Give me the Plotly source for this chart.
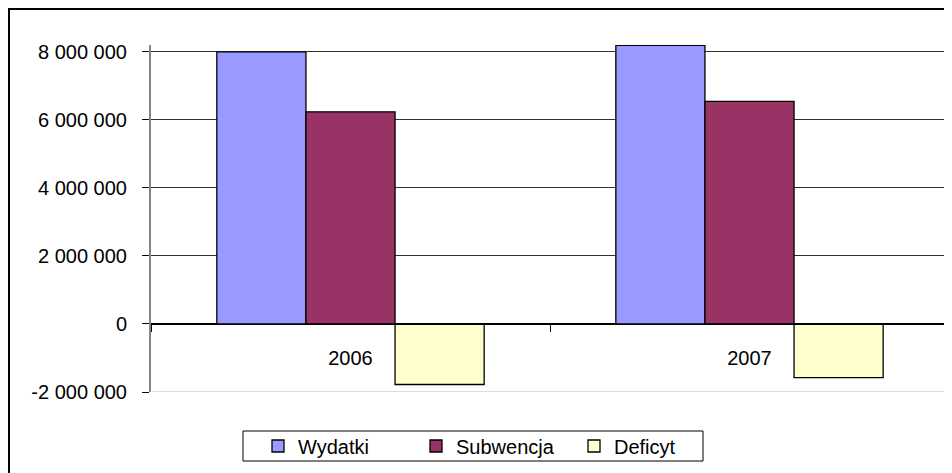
import plotly.graph_objects as go

# ---- data ----
categories = ["2006", "2007"]
series_names = ["Wydatki", "Subwencja", "Deficyt"]
wydatki = [8000000, 8190000]
subwencja = [6235000, 6540000]
deficyt = [-1780000, -1575000]
y_ticks = [-2000000, 0, 2000000, 4000000, 6000000, 8000000]
y_tick_labels = [f"{v:,}".replace(",", " ") for v in y_ticks]

colors = ["#9999FF", "#993366", "#FFFFCC"]
Y_MIN, Y_MAX = -2000000, 8200000

# figure pixel coords (page has an 8px body margin; figure sized to fit the window)
W, H = 944, 465
ML, MR, MT, MB = 143, 3, 37, 81
PW, PH = W - ML - MR, H - MT - MB

def px_x(px):
    return (px - ML) / PW

def px_y(py):
    return (H - MB - py) / PH

FONT = "Liberation Sans, Arial, sans-serif"

fig = go.Figure()
for name, vals, col in zip(series_names, [wydatki, subwencja, deficyt], colors):
    fig.add_trace(go.Bar(
        x=categories, y=vals, name=name,
        marker=dict(color=col, line=dict(color="#000000", width=1.3)),
    ))

zero_pos = (0 - Y_MIN) / (Y_MAX - Y_MIN)

fig.update_layout(
    width=W, height=H,
    margin=dict(l=ML, r=MR, t=MT, b=MB, pad=0),
    paper_bgcolor="white", plot_bgcolor="white",
    barmode="group", bargap=0.33, bargroupgap=0,
    font=dict(family=FONT, size=20, color="#000000"),
    showlegend=True,
    legend=dict(
        orientation="h", x=px_x(250), xanchor="left", y=px_y(438), yanchor="middle",
        borderwidth=0, bgcolor="rgba(0,0,0,0)",
        font=dict(family=FONT, size=20, color="#000000"),
        entrywidth=113, entrywidthmode="pixels",
        traceorder="normal",
    ),
    xaxis=dict(
        type="category", anchor="free", position=zero_pos,
        showline=True, linecolor="#000000", linewidth=1,
        ticks="outside", tickson="boundaries", ticklen=7, tickcolor="#000000",
        ticklabelstandoff=16,
        showgrid=False, zeroline=False,
        tickfont=dict(family=FONT, size=20, color="#000000"),
    ),
    yaxis=dict(
        range=[Y_MIN, Y_MAX], tickmode="array", tickvals=y_ticks, ticktext=y_tick_labels,
        showline=True, linecolor="#868686", linewidth=2,
        ticks="outside", ticklen=7, tickcolor="#000000",
        ticklabelstandoff=11,
        showgrid=True, gridcolor="#303030", gridwidth=1,
        zeroline=True, zerolinecolor="#000000", zerolinewidth=1,
        tickfont=dict(family=FONT, size=20, color="#000000"),
    ),
    shapes=[
        dict(type="line", xref="paper", yref="y", x0=0.002, x1=1, y0=Y_MIN, y1=Y_MIN,
             line=dict(color="#dddddd", width=2), layer="above"),
        # legend frame
        dict(type="rect", xref="paper", yref="paper",
             x0=px_x(235), x1=px_x(695), y0=px_y(453), y1=px_y(423),
             line=dict(color="#000000", width=1), fillcolor="white", layer="below"),
        # chart outer border (right/bottom edges lie outside the visible window)
        dict(type="rect", xref="paper", yref="paper",
             x0=px_x(1), x1=px_x(W + 5), y0=px_y(H + 5), y1=px_y(1),
             line=dict(color="#000000", width=2), fillcolor="rgba(0,0,0,0)"),
    ],
)

fig.write_html("out.html")
